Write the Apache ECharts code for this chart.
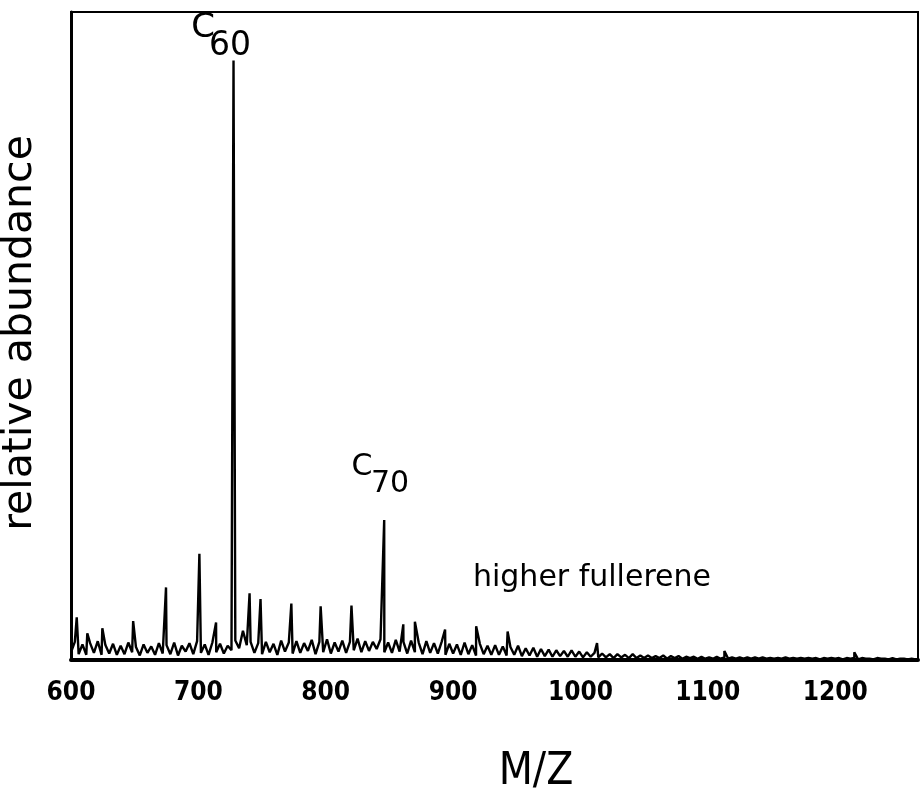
<!DOCTYPE html>
<html>
<head>
<meta charset="utf-8">
<script src="https://cdn.jsdelivr.net/npm/echarts@6/dist/echarts.min.js"></script>
<style>
  html, body { margin: 0; padding: 0; background: #fff; }
  #spectrum { width: 922px; height: 792px; }
</style>
</head>
<body>
<div id="spectrum"></div>
<script>
// x axis tick labels (m/z)
const tickLabels = [600, 700, 800, 900, 1000, 1100, 1200]

// background noise of the trace, one reading every 3 m/z starting at 600
const noiseStart = 600
const noiseStep = 3
const noiseValues = [
  1.2, 2.8, 0.9, 2.4, 0.8, 2.6, 1.1, 2.9, 0.8, 2.3,
  1.0, 2.5, 0.8, 2.2, 0.9, 2.7, 1.2, 2.0, 0.7, 2.4,
  1.1, 2.1, 0.8, 2.6, 1.0, 2.3, 0.9, 2.7, 0.7, 2.2,
  1.3, 2.6, 0.9, 2.9, 1.1, 2.4, 0.8, 2.7, 1.2, 2.5,
  1.0, 2.2, 1.5, 3.0, 1.8, 4.5, 2.3, 2.8, 1.1, 2.6,
  0.9, 2.8, 1.2, 2.5, 0.8, 3.0, 1.3, 2.7, 1.0, 2.9,
  1.1, 2.6, 1.4, 3.1, 0.9, 2.8, 1.2, 3.2, 1.0, 2.7,
  1.3, 3.0, 1.1, 2.8, 1.5, 3.3, 1.2, 2.9, 1.4, 2.8,
  1.7, 3.2, 1.2, 2.7, 1.1, 3.1, 1.3, 2.8, 1.0, 3.0,
  1.2, 2.7, 0.9, 2.9, 1.1, 2.6, 1.0, 2.8, 0.8, 2.5,
  1.0, 2.4, 0.8, 2.7, 0.9, 2.3, 0.7, 2.5, 0.9, 2.2,
  0.8, 2.3, 0.8, 2.1, 0.7, 2.0, 0.8, 2.2, 0.6, 1.8,
  0.7, 1.9, 0.5, 1.7, 0.6, 1.6, 0.5, 1.5, 0.6, 1.4,
  0.5, 1.5, 0.5, 1.3, 0.4, 1.2, 0.5, 1.1, 0.4, 1.0,
  0.4, 0.9, 0.3, 0.9, 0.4, 0.8, 0.3, 0.9, 0.3, 0.7,
  0.3, 0.7, 0.3, 0.6, 0.3, 0.7, 0.2, 0.6, 0.3, 0.6,
  0.2, 0.5, 0.3, 0.5, 0.2, 0.5, 0.2, 0.4, 0.2, 0.5,
  0.2, 0.4, 0.2, 0.4, 0.2, 0.4, 0.2, 0.4, 0.2, 0.4,
  0.2, 0.4, 0.2, 0.3, 0.2, 0.3, 0.2, 0.4, 0.2, 0.3,
  0.2, 0.3, 0.2, 0.3, 0.2, 0.3, 0.1, 0.3, 0.2, 0.3,
  0.2, 0.3, 0.1, 0.3, 0.2, 0.3, 0.1, 0.3, 0.2, 0.2,
  0.1, 0.3, 0.2, 0.2, 0.1, 0.3, 0.1, 0.2, 0.2, 0.1,
  0.2, 0.1
]

// cluster peaks
const peakMz = [604.5, 612.8, 624.6, 648.8, 674.6, 700.8, 713.9, 727.6, 740.2, 748.8, 773, 796, 820.2, 845.9, 860.9, 870, 893.7, 918.1, 942.8, 1013, 1113, 1215]
const peakValues = [6.6, 4.1, 4.9, 6.0, 11.2, 16.4, 5.8, 92.5, 10.3, 9.4, 8.7, 8.3, 8.4, 21.6, 5.5, 5.9, 4.7, 5.2, 4.4, 2.6, 1.4, 1.2]

let trace = noiseValues.map((v, i) => [noiseStart + i * noiseStep, v])
peakMz.forEach((m, i) => trace.push([m, peakValues[i]]))
trace.sort((a, b) => a[0] - b[0])

let myChart = echarts.init(document.getElementById('spectrum'))
let option = {
  animation: false,
  backgroundColor: '#fff',
  grid: {
    left: 71,
    right: 4,
    top: 12,
    bottom: 132,
    show: true,
    borderColor: '#000',
    borderWidth: 2
  },
  xAxis: {
    type: 'value',
    min: 600,
    max: 1265,
    interval: 100,
    axisLine: { show: true, lineStyle: { color: '#000', width: 4 } },
    axisTick: { show: false },
    splitLine: { show: false },
    axisLabel: {
      color: '#000',
      fontFamily: 'DejaVu Sans Condensed',
      fontWeight: 'bold',
      fontSize: 26,
      margin: 20,
      showMaxLabel: false,
      formatter: (v) => (tickLabels.indexOf(v) >= 0 ? String(v) : '')
    }
  },
  yAxis: {
    type: 'value',
    min: 0,
    max: 100,
    axisLine: { show: true, lineStyle: { color: '#000', width: 3 } },
    axisTick: { show: false },
    axisLabel: { show: false },
    splitLine: { show: false }
  },
  series: [
    {
      name: 'relative abundance',
      type: 'line',
      showSymbol: false,
      data: trace,
      lineStyle: { color: '#000', width: 2.4 }
    }
  ],
  graphic: [
    {
      type: 'text',
      x: 20,
      y: 333,
      rotation: Math.PI / 2,
      style: {
        text: 'relative abundance',
        fontFamily: 'DejaVu Sans',
        fontSize: 41,
        fill: '#000',
        align: 'center',
        verticalAlign: 'middle'
      }
    },
    {
      type: 'text',
      x: 536,
      y: 773,
      style: {
        text: 'M/Z',
        fontFamily: 'DejaVu Sans Condensed',
        fontSize: 44,
        fill: '#000',
        align: 'center',
        verticalAlign: 'middle'
      }
    },
    {
      type: 'text',
      x: 203,
      y: 28,
      style: { text: 'C', fontFamily: 'DejaVu Sans', fontSize: 34, fill: '#000', align: 'center', verticalAlign: 'middle' }
    },
    {
      type: 'text',
      x: 230,
      y: 46,
      style: { text: '60', fontFamily: 'DejaVu Sans', fontSize: 33, fill: '#000', align: 'center', verticalAlign: 'middle' }
    },
    {
      type: 'text',
      x: 362,
      y: 467,
      style: { text: 'C', fontFamily: 'DejaVu Sans', fontSize: 30, fill: '#000', align: 'center', verticalAlign: 'middle' }
    },
    {
      type: 'text',
      x: 390,
      y: 484,
      style: { text: '70', fontFamily: 'DejaVu Sans', fontSize: 30, fill: '#000', align: 'center', verticalAlign: 'middle' }
    },
    {
      type: 'text',
      x: 592,
      y: 578,
      style: { text: 'higher fullerene', fontFamily: 'DejaVu Sans', fontSize: 30, fill: '#000', align: 'center', verticalAlign: 'middle' }
    }
  ]
}
myChart.setOption(option)
</script>
</body>
</html>
